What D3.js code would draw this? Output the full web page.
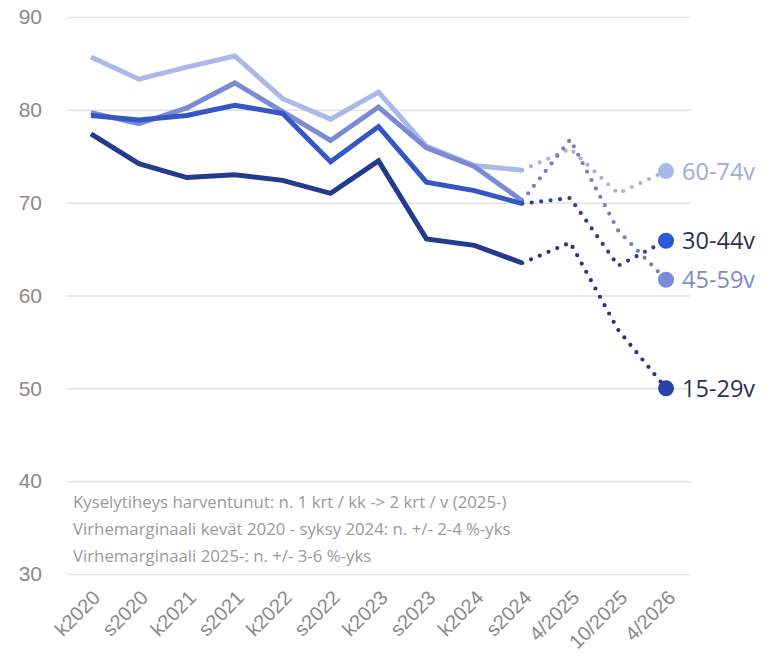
<!DOCTYPE html>
<html>
<head>
<meta charset="utf-8">
<script src="https://cdn.jsdelivr.net/npm/d3@7"></script>
<style>
  body { margin: 0; background: #fff; }
  svg { display: block; font-family: "Open Sans", sans-serif; }
</style>
</head>
<body>
<svg id="chart"></svg>
<script>
const width = 775;
const height = 663;

// survey rounds (k = kevät, s = syksy), last three are the new half-year rounds
const categories = ["k2020", "s2020", "k2021", "s2021", "k2022", "s2022", "k2023",
  "s2023", "k2024", "s2024", "4/2025", "10/2025", "4/2026"];

const age15_29 = [77.4, 74.2, 72.7, 73.0, 72.4, 71.0, 74.5, 66.1, 65.4, 63.5, 65.7, 56.3, 50.0];
const age30_44 = [79.4, 78.9, 79.4, 80.5, 79.6, 74.4, 78.2, 72.2, 71.3, 69.9, 70.5, 63.2, 65.9];
const age45_59 = [79.7, 78.5, 80.2, 82.9, 79.8, 76.7, 80.3, 75.9, 73.9, 70.2, 76.8, 67.0, 61.7];
const age60_74 = [85.7, 83.3, 84.6, 85.8, 81.2, 79.0, 81.9, 76.1, 74.0, 73.5, 75.8, 71.0, 73.4];

const seriesNames = ["15-29v", "30-44v", "45-59v", "60-74v"];
const yTicks = [30, 40, 50, 60, 70, 80, 90];

const notes = [
  "Kyselytiheys harventunut: n. 1 krt / kk -> 2 krt / v (2025-)",
  "Virhemarginaali kevät 2020 - syksy 2024: n. +/- 2-4 %-yks",
  "Virhemarginaali 2025-: n. +/- 3-6 %-yks"
];

// index of the last monthly-survey round; after it lines are dotted
const lastSolid = 9;

const series = [age15_29, age30_44, age45_59, age60_74].map((values, i) => ({
  name: seriesNames[i],
  values: values
}));

const lineColors = ["#243a8e", "#3456c6", "#7a8bd4", "#aab9e7"];
const dotColors = ["#27357a", "#2d3f92", "#7480bd", "#a9b2d3"];
const markerColors = ["#2543a3", "#2c5ad6", "#7b8dd8", "#a9b9e9"];
const labelColors = ["#283255", "#2b3352", "#7b8bcc", "#9dadda"];

const svg = d3.select("#chart").attr("width", width).attr("height", height);

const x = d3.scalePoint().domain(categories).range([67, 690]).padding(0.5);
const y = d3.scaleLinear().domain([30, 90]).range([574, 17]);

// y axis + gridlines
const yAxis = svg.append("g")
  .attr("transform", "translate(67,0)")
  .call(d3.axisLeft(y).tickValues(yTicks).tickSize(-623).tickPadding(25));
yAxis.select(".domain").remove();
yAxis.selectAll(".tick line").attr("stroke", "#e2e2e2").attr("stroke-width", 1.5);
yAxis.selectAll(".tick text")
  .attr("fill", "#8a8a8a")
  .style("font-size", "21px");

// x axis labels, rotated
const xAxis = svg.append("g")
  .attr("transform", "translate(0,574)")
  .call(d3.axisBottom(x).tickSize(0));
xAxis.select(".domain").remove();
xAxis.selectAll(".tick text")
  .attr("y", 0)
  .attr("dy", 0)
  .attr("text-anchor", "end")
  .attr("transform", "translate(10,25) rotate(-45)")
  .attr("fill", "#8a8a8a")
  .style("font-size", "20px");

// footnotes
svg.append("g")
  .selectAll("text")
  .data(notes)
  .enter()
  .append("text")
  .attr("x", 73)
  .attr("y", (d, i) => 508 + i * 27)
  .attr("fill", "#9a9a9a")
  .style("font-size", "16.8px")
  .text(d => d);

const line = d3.line()
  .x(d => x(d.cat))
  .y(d => y(d.v));

const plot = svg.append("g");
const order = [3, 2, 1, 0];

order.forEach(i => {
  const s = series[i];
  const pts = s.values.map((v, j) => ({ cat: categories[j], v: v }));

  plot.append("path")
    .datum(pts.slice(lastSolid))
    .attr("d", line)
    .attr("fill", "none")
    .attr("stroke", dotColors[i])
    .attr("stroke-width", 4.2)
    .attr("stroke-linecap", "round")
    .attr("stroke-dasharray", "0,9.5");

  plot.append("path")
    .datum(pts.slice(0, lastSolid + 1))
    .attr("d", line)
    .attr("fill", "none")
    .attr("stroke", lineColors[i])
    .attr("stroke-width", 5)
    .attr("stroke-linejoin", "miter");
});

// end markers and labels
const last = categories.length - 1;
const ends = svg.append("g")
  .selectAll("g")
  .data(series)
  .enter()
  .append("g")
  .attr("transform", d => `translate(${x(categories[last])},${y(d.values[last])})`);

ends.append("circle")
  .attr("r", 8)
  .attr("fill", (d, i) => markerColors[i]);

ends.append("text")
  .attr("x", 16)
  .attr("dy", "0.36em")
  .attr("fill", (d, i) => labelColors[i])
  .style("font-size", "23.5px")
  .text(d => d.name);
</script>
</body>
</html>
